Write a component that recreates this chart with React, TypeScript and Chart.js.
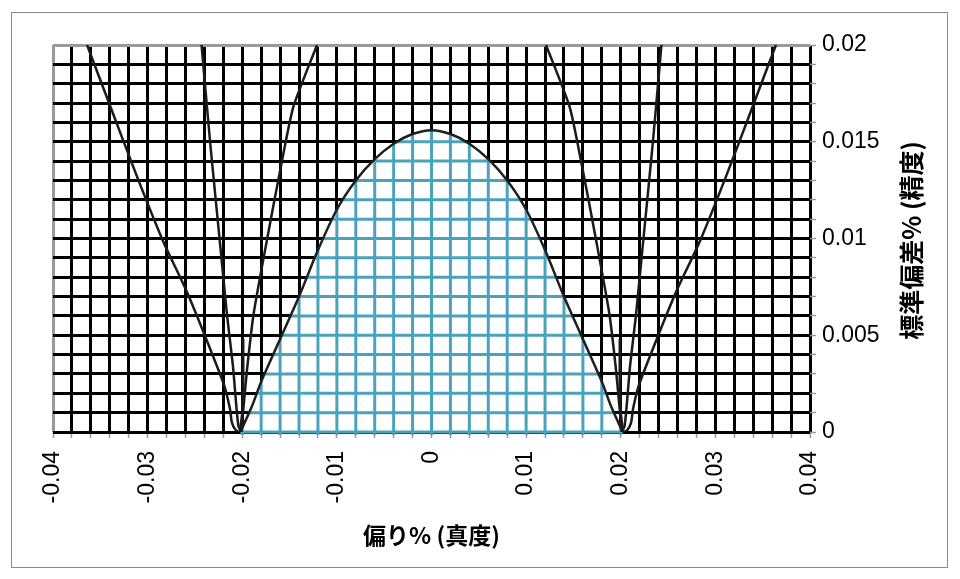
import React, { useEffect, useRef } from 'react';
import { Chart, registerables } from 'chart.js';

Chart.register(...registerables);

// axis settings
const xMin = -0.04;
const xMax = 0.04;
const xStep = 0.002;
const yMin = 0;
const yMax = 0.02;
const yStep = 0.001;

const xLabelValues = [-0.04, -0.03, -0.02, -0.01, 0, 0.01, 0.02, 0.03, 0.04];
const xLabelTexts = ['-0.04', '-0.03', '-0.02', '-0.01', '0', '0.01', '0.02', '0.03', '0.04'];
const yLabelValues = [0, 0.005, 0.01, 0.015, 0.02];
const yLabelTexts = ['0', '0.005', '0.01', '0.015', '0.02'];

const xTitle = '偏り% (真度)';
const yTitle = '標準偏差% (精度)';

// acceptance region (filled)
const areaX = [-0.0202, -0.019, -0.018, -0.016, -0.014, -0.012, -0.01, -0.008, -0.006, -0.004, -0.002, 0, 0.002, 0.004, 0.006, 0.008, 0.01, 0.012, 0.014, 0.016, 0.018, 0.019, 0.0202];
const areaY = [0, 0.0013, 0.0026, 0.0048, 0.007, 0.0094, 0.0115, 0.013, 0.0141, 0.0149, 0.0154, 0.0156, 0.0154, 0.0149, 0.0141, 0.013, 0.0115, 0.0094, 0.007, 0.0048, 0.0026, 0.0013, 0];

// outer curves
const left1X = [-0.0364, -0.034, -0.0312, -0.0284, -0.0259, -0.0238, -0.0219, -0.0213, -0.0211, -0.0207, -0.0203];
const right1X = [0.0364, 0.034, 0.0312, 0.0284, 0.0259, 0.0238, 0.0219, 0.0213, 0.0211, 0.0207, 0.0203];
const curve1Y = [0.02, 0.0169, 0.0133, 0.0099, 0.0073, 0.0048, 0.0024, 0.0012, 0.0005, 0.0001, 0];

const left2X = [-0.0243, -0.0234, -0.0224, -0.0216, -0.021, -0.0206, -0.0204, -0.0201];
const right2X = [0.0243, 0.0234, 0.0224, 0.0216, 0.021, 0.0206, 0.0204, 0.0201];
const curve2Y = [0.02, 0.015, 0.01, 0.006, 0.0035, 0.0012, 0.0003, 0];

const left3X = [-0.0121, -0.0146, -0.016, -0.0174, -0.0188, -0.0195, -0.0199, -0.0201];
const right3X = [0.0121, 0.0146, 0.016, 0.0174, 0.0188, 0.0195, 0.0199, 0.0201];
const curve3Y = [0.02, 0.0168, 0.0135, 0.0099, 0.0061, 0.0032, 0.0011, 0];

const left4X = [-0.0199, -0.0199, -0.02, -0.0202];
const right4X = [0.0199, 0.0199, 0.02, 0.0202];
const curve4Y = [0.0048, 0.0025, 0.001, 0.0002];

const toPoints = (xs: number[], ys: number[]) => xs.map((x, i) => ({ x, y: ys[i] }));

const findLabel = (v: number, values: number[], texts: string[]) => {
  const i = values.findIndex((t) => Math.abs(t - v) < 1e-9);
  return i >= 0 ? texts[i] : '';
};

const TICK_FONT = { family: '"Liberation Sans", Arial, sans-serif', size: 23 };
const CJK_FAMILY = '"Noto Sans CJK JP", "Noto Sans", sans-serif';

const areaGridPlugin = {
  id: 'areaGrid',
  beforeDatasetDraw(chart: any, args: any) {
    if (args.index !== 0) return;
    const line = args.meta.dataset;
    const pts = args.meta.data;
    if (!line || !pts || !pts.length) return;
    const { ctx, chartArea, scales } = chart;
    const xs = scales.x;
    const ys = scales.y;
    const base = ys.getPixelForValue(0) + 3;
    line.updateControlPoints(chartArea, 'x');
    ctx.save();
    ctx.beginPath();
    line.path(ctx);
    ctx.lineTo(pts[pts.length - 1].x, base);
    ctx.lineTo(pts[0].x, base);
    ctx.closePath();
    ctx.clip();
    ctx.strokeStyle = '#4aa3bd';
    ctx.lineWidth = 3;
    xs.ticks.forEach((t: any) => {
      const px = xs.getPixelForValue(t.value);
      ctx.beginPath();
      ctx.moveTo(px, chartArea.top);
      ctx.lineTo(px, chartArea.bottom + 3);
      ctx.stroke();
    });
    ys.ticks.forEach((t: any) => {
      const py = ys.getPixelForValue(t.value);
      ctx.beginPath();
      ctx.moveTo(chartArea.left, py);
      ctx.lineTo(chartArea.right, py);
      ctx.stroke();
    });
    ctx.restore();
  },
  afterDraw(chart: any) {
    const { ctx, chartArea } = chart;
    ctx.save();
    ctx.translate(chartArea.right + 101, (chartArea.top + chartArea.bottom) / 2 + 2);
    ctx.rotate(-Math.PI / 2);
    ctx.font = `bold 25px ${CJK_FAMILY}`;
    ctx.fillStyle = '#000';
    ctx.textAlign = 'center';
    ctx.textBaseline = 'middle';
    ctx.fillText(yTitle, 0, 0);
    ctx.restore();
  },
};

const curveStyle = {
  borderColor: '#1a1a1a',
  borderWidth: 2.5,
  pointRadius: 0,
  tension: 0.2,
  fill: false,
  order: 1,
};

export default function App() {
  const canvasRef = useRef<HTMLCanvasElement | null>(null);

  useEffect(() => {
    if (!canvasRef.current) return;
    const chart = new Chart(canvasRef.current, {
      type: 'line',
      data: {
        datasets: [
          {
            data: toPoints(areaX, areaY),
            borderColor: '#1f1f1f',
            borderWidth: 2.5,
            backgroundColor: '#ffffff',
            fill: 'origin',
            pointRadius: 0,
            tension: 0.3,
            order: 10,
          },
          { ...curveStyle, data: toPoints(left1X, curve1Y) },
          { ...curveStyle, data: toPoints(left2X, curve2Y) },
          { ...curveStyle, data: toPoints(left3X, curve3Y) },
          { ...curveStyle, data: toPoints(left4X, curve4Y) },
          { ...curveStyle, data: toPoints(right1X, curve1Y) },
          { ...curveStyle, data: toPoints(right2X, curve2Y) },
          { ...curveStyle, data: toPoints(right3X, curve3Y) },
          { ...curveStyle, data: toPoints(right4X, curve4Y) },
        ] as any,
      },
      options: {
        responsive: false,
        devicePixelRatio: 1,
        animation: false,
        layout: { padding: { left: 53, top: 45, right: 0, bottom: 0 } },
        plugins: {
          legend: { display: false },
          tooltip: { enabled: false },
        },
        scales: {
          x: {
            type: 'linear',
            min: xMin,
            max: xMax,
            border: { display: false },
            grid: {
              color: (c: any) => (c.index === 0 ? '#9a9a9a' : '#000000'),
              lineWidth: 3,
              tickColor: '#9a9a9a',
              tickWidth: 1.5,
              tickLength: 6,
            },
            ticks: {
              stepSize: xStep,
              maxTicksLimit: 200,
              autoSkip: false,
              minRotation: 90,
              maxRotation: 90,
              padding: 13,
              color: '#000',
              font: TICK_FONT,
              callback: (v: any) => findLabel(Number(v), xLabelValues, xLabelTexts),
            },
            title: {
              display: true,
              text: xTitle,
              color: '#000',
              font: { family: CJK_FAMILY, size: 23, weight: 'bold' },
              padding: { top: 0, bottom: 30 },
            },
            afterFit: (s: any) => {
              s.height = 147;
            },
          },
          y: {
            type: 'linear',
            position: 'right',
            min: yMin,
            max: yMax,
            border: { display: false },
            grid: {
              color: (c: any) => (Math.abs(c.tick.value - yMax) < 1e-9 ? '#9a9a9a' : '#000000'),
              lineWidth: 3,
              tickColor: '#9a9a9a',
              tickWidth: 1.5,
              tickLength: 6,
            },
            ticks: {
              stepSize: yStep,
              maxTicksLimit: 200,
              autoSkip: false,
              padding: 6,
              color: '#000',
              font: TICK_FONT,
              callback: (v: any) => findLabel(Number(v), yLabelValues, yLabelTexts),
            },
            afterFit: (s: any) => {
              s.width = 150;
            },
          },
        },
      } as any,
      plugins: [areaGridPlugin],
    });
    return () => chart.destroy();
  }, []);

  return (
    <div>
      <canvas
        ref={canvasRef}
        width={960}
        height={579}
        style={{ position: 'absolute', left: 0, top: 0, width: 960, height: 579, display: 'block' }}
      />
      <div
        style={{
          position: 'absolute',
          left: 11,
          top: 12,
          width: 937,
          height: 556,
          boxSizing: 'border-box',
          border: '1px solid #8a8a8a',
          pointerEvents: 'none',
        }}
      />
    </div>
  );
}
